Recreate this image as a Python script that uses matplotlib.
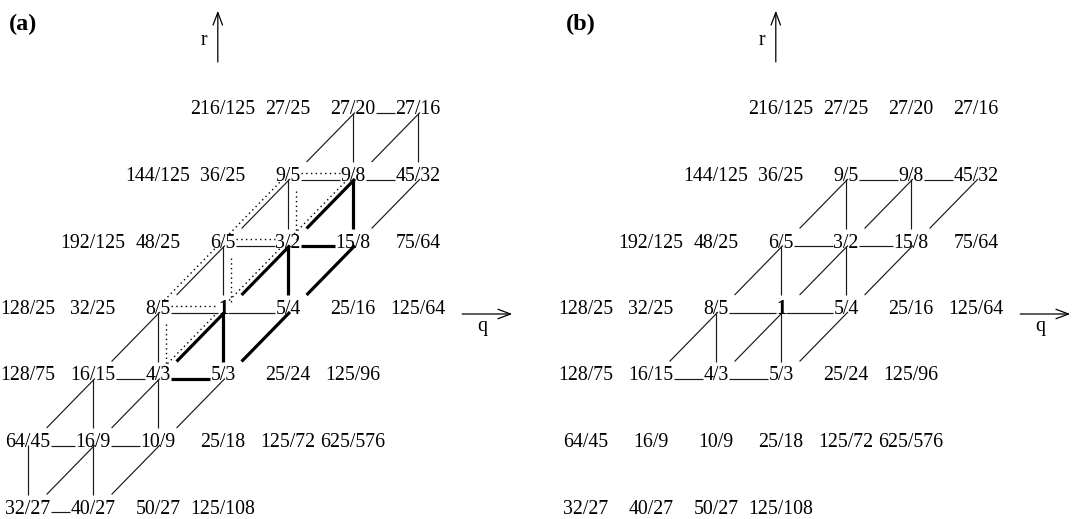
import matplotlib
matplotlib.use("Agg")
import matplotlib.pyplot as plt
from matplotlib.patches import FancyArrowPatch

# ---------------- data ----------------
# lattice rows: (first column index, labels)
row_starts = [3, 2, 1, 0, 0, 0, 0]
row_labels = [
    ["216/125", "27/25", "27/20", "27/16"],
    ["144/125", "36/25", "9/5", "9/8", "45/32"],
    ["192/125", "48/25", "6/5", "3/2", "15/8", "75/64"],
    ["128/25", "32/25", "8/5", "1", "5/4", "25/16", "125/64"],
    ["128/75", "16/15", "4/3", "5/3", "25/24", "125/96"],
    ["64/45", "16/9", "10/9", "25/18", "125/72", "625/576"],
    ["32/27", "40/27", "50/27", "125/108"],
]
bold_labels = ["1"]

# panel (a) edges
a_thin = [
    ("27/20", "9/5"), ("27/20", "9/8"), ("27/16", "9/8"), ("27/16", "45/32"), ("27/20", "27/16"),
    ("9/5", "9/8"), ("9/8", "45/32"), ("9/5", "6/5"), ("9/5", "3/2"), ("45/32", "15/8"),
    ("6/5", "3/2"), ("6/5", "8/5"), ("6/5", "1"), ("8/5", "1"), ("1", "5/4"),
    ("8/5", "16/15"), ("8/5", "4/3"), ("16/15", "4/3"),
    ("16/15", "64/45"), ("16/15", "16/9"), ("4/3", "16/9"), ("4/3", "10/9"), ("5/3", "10/9"),
    ("64/45", "16/9"), ("16/9", "10/9"),
    ("64/45", "32/27"), ("16/9", "32/27"), ("16/9", "40/27"), ("10/9", "40/27"), ("32/27", "40/27"),
]
a_thick = [
    ("9/8", "3/2"), ("9/8", "15/8"), ("3/2", "15/8"), ("3/2", "1"), ("3/2", "5/4"),
    ("15/8", "5/4"), ("1", "4/3"), ("1", "5/3"), ("5/4", "5/3"), ("4/3", "5/3"),
]
a_dotted = [
    ("9/5", "9/8"), ("6/5", "3/2"), ("8/5", "1"),
    ("9/5", "6/5"), ("6/5", "8/5"), ("9/8", "3/2"), ("3/2", "1"), ("1", "4/3"),
    ("9/5", "3/2"), ("6/5", "1"), ("8/5", "4/3"),
]
# panel (b) edges
b_thin = [
    ("9/5", "9/8"), ("9/8", "45/32"), ("6/5", "3/2"), ("3/2", "15/8"), ("8/5", "1"), ("1", "5/4"),
    ("16/15", "4/3"), ("4/3", "5/3"),
    ("9/5", "3/2"), ("9/8", "15/8"), ("6/5", "1"), ("3/2", "5/4"), ("8/5", "4/3"), ("1", "5/3"),
    ("9/5", "6/5"), ("9/8", "3/2"), ("45/32", "15/8"), ("6/5", "8/5"), ("3/2", "1"),
    ("15/8", "5/4"), ("8/5", "16/15"), ("1", "4/3"), ("5/4", "5/3"),
]
panel_names = ["(a)", "(b)"]
axis_names = ["r", "q"]

# ---------------- layout ----------------
W, H, DPI = 1087, 519, 100
PXC, PXR = 65.0, 66.5          # pixels per lattice column / row
X0, Y0 = 28.0, 114.5           # pixel position of column 0 / row-0 baseline
SHIFT = 558.0 / PXC            # horizontal offset of panel (b)
FS = 14.3
EM = FS * DPI / 72.0
FONT = "Liberation Serif"

fig = plt.figure(figsize=(W / DPI, H / DPI), dpi=DPI)
ax = fig.add_axes([0, 0, 1, 1])
ax.set_xlim(-X0 / PXC, (W - X0) / PXC)
ax.set_ylim((H - Y0) / PXR, -Y0 / PXR)
ax.axis("off")

pos = {}
for r, (c0, labs) in enumerate(zip(row_starts, row_labels)):
    for i, lab in enumerate(labs):
        pos[lab] = (r, c0 + i)


def width(lab):
    n = sum(ch.isdigit() for ch in lab)
    s = lab.count("/")
    return EM * (0.5 * n + 0.278 * s) / PXC


def draw_edge(a, b, shift, style):
    ra, ca = pos[a]
    rb, cb = pos[b]
    if ra > rb or (ra == rb and ca > cb):
        a, b, ra, ca, rb, cb = b, a, rb, cb, ra, ca
    dotted = style == "dot"
    if ra == rb:  # horizontal
        y = ra - (1.5 + (7 if dotted else 0)) / PXR
        xs = [ca + width(a) / 2 + shift, cb - width(b) / 2 + shift]
        ys = [y, y]
    elif ca == cb:  # vertical
        x = ca + shift + (8 / PXC if dotted else 0)
        if dotted:
            ys = [ra + 10 / PXR, rb - 9 / PXR]
        else:
            ys = [ra - 2 / PXR, rb - 19 / PXR]
        xs = [x, x]
    else:  # diagonal towards lower-left
        dx = -7 / PXC if dotted else 0
        t0, t1 = (0.02, 1 - 12 / PXR) if dotted else (-2 / PXR, 1 - 19 / PXR)
        xs = [ca - t0 + shift + dx, ca - t1 + shift + dx]
        ys = [ra + t0, ra + t1]
    if style == "thin":
        ax.plot(xs, ys, color="#1a1a1a", lw=0.85, solid_capstyle="butt")
    elif style == "thick":
        ax.plot(xs, ys, color="black", lw=2.3, solid_capstyle="butt")
    else:
        ax.plot(xs, ys, color="black", lw=1.0, linestyle=(0, (1, 2.4)))


for p, groups in enumerate([[(a_thin, "thin"), (a_thick, "thick"), (a_dotted, "dot")],
                            [(b_thin, "thin")]]):
    sh = p * SHIFT
    for edges, style in groups:
        for a, b in edges:
            draw_edge(a, b, sh, style)
    # labels
    for lab, (r, c) in pos.items():
        ax.text(c + sh, r, lab, ha="center", va="baseline", fontsize=FS,
                family=FONT, fontweight="bold" if lab in bold_labels else "normal")
    # panel tag
    ax.text(-0.08 + sh, -1.27, panel_names[p], ha="center", va="baseline",
            fontsize=17.5, family=FONT, fontweight="bold")
    # r axis arrow
    ax.add_patch(FancyArrowPatch((2.92 + sh, -0.79), (2.92 + sh, -1.56),
                                 arrowstyle="->,head_length=0.45,head_width=0.17",
                                 mutation_scale=20, lw=0.9, color="black",
                                 shrinkA=0, shrinkB=0))
    ax.text(2.70 + sh, -1.045, axis_names[0], ha="center", va="baseline",
            fontsize=FS, family=FONT)
    # q axis arrow
    ax.add_patch(FancyArrowPatch((6.68 + sh, 3.0), (7.45 + sh, 3.0),
                                 arrowstyle="->,head_length=0.45,head_width=0.17",
                                 mutation_scale=20, lw=0.9, color="black",
                                 shrinkA=0, shrinkB=0))
    ax.text(6.99 + sh, 3.25, axis_names[1], ha="center", va="baseline",
            fontsize=FS, family=FONT)

fig.savefig("out.png", dpi=DPI)
